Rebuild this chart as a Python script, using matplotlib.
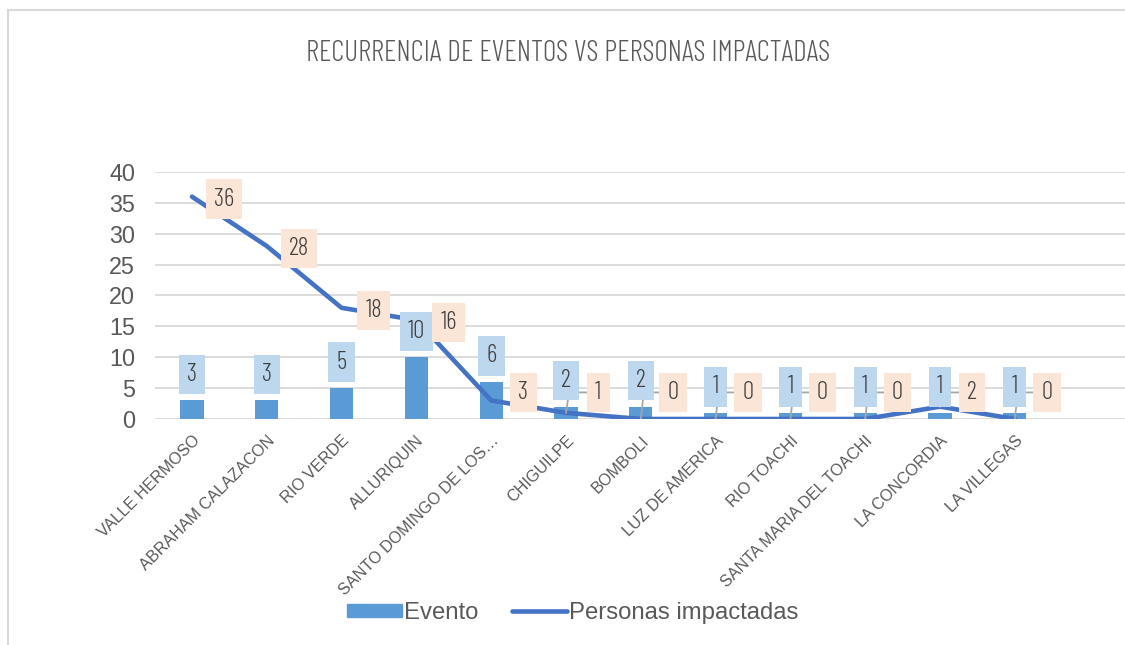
import matplotlib
matplotlib.use("Agg")
import matplotlib.pyplot as plt
import matplotlib.patches as mpatches
from matplotlib.lines import Line2D
from matplotlib import font_manager

# ── Data ────────────────────────────────────────────────────────────────────
sectores = ["VALLE HERMOSO", "ABRAHAM CALAZACON", "RIO VERDE", "ALLURIQUIN",
            "SANTO DOMINGO DE LOS…", "CHIGUILPE", "BOMBOLI", "LUZ DE AMERICA",
            "RIO TOACHI", "SANTA MARIA DEL TOACHI", "LA CONCORDIA", "LA VILLEGAS"]
eventos = [3, 3, 5, 10, 6, 2, 2, 1, 1, 1, 1, 1]
personas = [36, 28, 18, 16, 3, 1, 0, 0, 0, 0, 2, 0]
yticks = [0, 5, 10, 15, 20, 25, 30, 35, 40]

BAR = "#5B9BD5"
LINE = "#4472C4"
GRID = "#D9D9D9"
TXT = "#595959"
BLUE_BOX = "#BDD7EE"
PEACH_BOX = "#FBE5D6"

names = {f.name for f in font_manager.fontManager.ttflist}
NARROW = next((n for n in ["Barlow Condensed", "Oswald", "Pathway Gothic One",
                           "Archivo Narrow"] if n in names), "DejaVu Sans")
plt.rcParams["font.family"] = ["Liberation Sans", "DejaVu Sans"]

fig = plt.figure(figsize=(11.25, 6.45), dpi=100)
ax = fig.add_axes([0.1374, 0.3504, 0.8644, 0.383])

x = list(range(len(sectores)))
ax.bar(x, eventos, width=0.31, color=BAR, zorder=2, label="Evento")
ax.plot(x, personas, color=LINE, lw=3.3, solid_capstyle="round", zorder=3,
        label="Personas impactadas")

ax.set_xlim(-0.5, len(sectores) + 0.5)
ax.set_ylim(0, 40)
ax.set_yticks(yticks)
ax.grid(axis="y", color=GRID, lw=1.3, zorder=0)
ax.set_axisbelow(True)
for s in ax.spines.values():
    s.set_visible(False)
ax.tick_params(axis="both", length=0, colors=TXT)
ax.tick_params(axis="y", labelsize=16.8, pad=14)
ax.set_xticks(x)
ax.set_xticklabels(sectores, rotation=45, ha="right", rotation_mode="anchor",
                   fontsize=11.6, color=TXT)
ax.tick_params(axis="x", pad=10)

# data labels – Evento (above bars)
for xi, v in zip(x, eventos):
    ax.text(xi, v + 4.2, str(v), ha="center", va="center", fontsize=18,
            family=NARROW, weight=300, color="#404040", zorder=5,
            bbox=dict(boxstyle="square,pad=0.33", fc=BLUE_BOX, ec="none"))

# data labels – Personas (right of points, with leader lines)
for xi, v in zip(x, personas):
    ly = max(v - 0.4, 4.3)
    lx = xi + 0.43
    if ly - v > 1.5:
        ax.plot([xi, xi + 0.04, lx - 0.15], [v, ly, ly], color="#A6A6A6",
                lw=1.3, zorder=4)
    ax.text(lx, ly, str(v), ha="center", va="center", fontsize=18,
            family=NARROW, weight=300, color="#404040", zorder=6,
            bbox=dict(boxstyle="square,pad=0.33", fc=PEACH_BOX, ec="none"))

# title
fig.text(0.505, 0.917, "RECURRENCIA DE EVENTOS VS PERSONAS IMPACTADAS",
         ha="center", va="center", fontsize=21.1, family=NARROW, weight=300,
         color=TXT)

# legend
handles = [mpatches.Patch(color=BAR, label="Evento"),
           Line2D([], [], color=LINE, lw=3.3, solid_capstyle="round",
                  label="Personas impactadas")]
leg = fig.legend(handles=handles, loc="center", bbox_to_anchor=(0.509, 0.05),
                 ncol=2, frameon=False, fontsize=17.2, handlelength=2.3,
                 handleheight=0.45, columnspacing=1.4, handletextpad=0.1)
for t in leg.get_texts():
    t.set_color(TXT)

# chart border (left / top)
fig.add_artist(Line2D([0.0075, 0.0075], [0.0, 0.985], color=GRID, lw=1.5,
                      transform=fig.transFigure))
fig.add_artist(Line2D([0.0075, 1.0], [0.985, 0.985], color=GRID, lw=1.5,
                      transform=fig.transFigure))

fig.savefig("out.png", dpi=100, facecolor="white")
